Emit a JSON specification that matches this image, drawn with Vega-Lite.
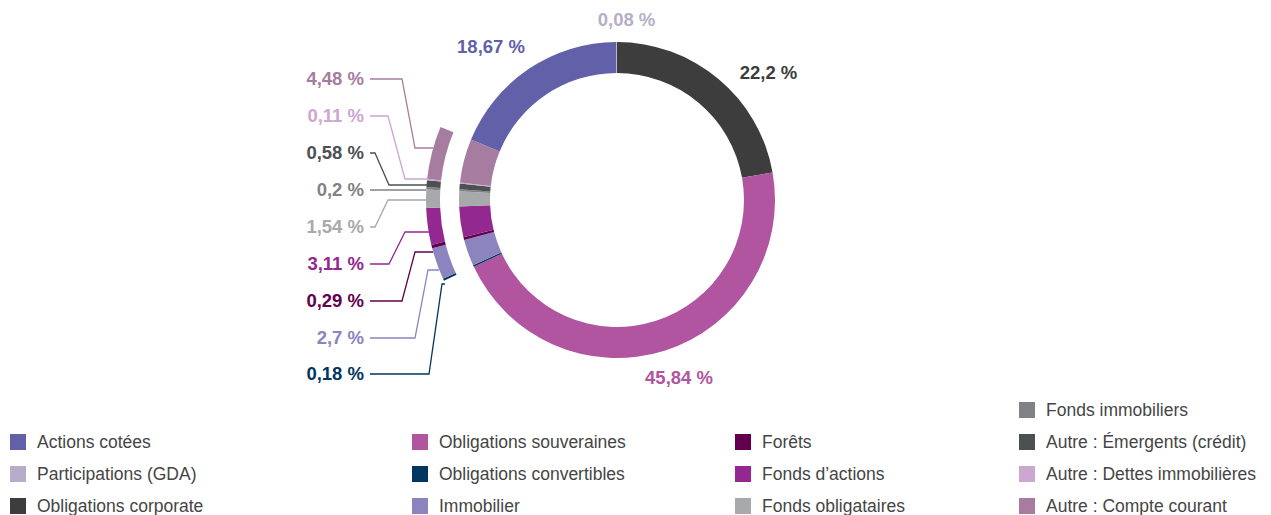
{
  "$schema": "https://vega.github.io/schema/vega-lite/v6.json",
  "padding": 0,
  "spacing": 0,
  "bounds": "flush",
  "background": "white",
  "description": "Répartition des actifs",
  "config": {"view": {"stroke": null}, "text": {"font": "Liberation Sans"}},
  "datasets": {
    "parts": [
      {"rank": 1, "categorie": "Obligations corporate", "valeur": 22.2, "colonne": 1, "ligne": 4},
      {"rank": 2, "categorie": "Obligations souveraines", "valeur": 45.84, "colonne": 2, "ligne": 2},
      {"rank": 3, "categorie": "Obligations convertibles", "valeur": 0.18, "colonne": 2, "ligne": 3},
      {"rank": 4, "categorie": "Immobilier", "valeur": 2.7, "colonne": 2, "ligne": 4},
      {"rank": 5, "categorie": "Forêts", "valeur": 0.29, "colonne": 3, "ligne": 2},
      {"rank": 6, "categorie": "Fonds d’actions", "valeur": 3.11, "colonne": 3, "ligne": 3},
      {"rank": 7, "categorie": "Fonds obligataires", "valeur": 1.54, "colonne": 3, "ligne": 4},
      {"rank": 8, "categorie": "Fonds immobiliers", "valeur": 0.2, "colonne": 4, "ligne": 1},
      {"rank": 9, "categorie": "Autre : Émergents (crédit)", "valeur": 0.58, "colonne": 4, "ligne": 2},
      {"rank": 10, "categorie": "Autre : Dettes immobilières", "valeur": 0.11, "colonne": 4, "ligne": 3},
      {"rank": 11, "categorie": "Autre : Compte courant", "valeur": 4.48, "colonne": 4, "ligne": 4},
      {"rank": 12, "categorie": "Actions cotées", "valeur": 18.67, "colonne": 1, "ligne": 2},
      {"rank": 13, "categorie": "Participations (GDA)", "valeur": 0.08, "colonne": 1, "ligne": 3}
    ],
    "reperes": [
      {"label": "4,48 %", "categorie": "Autre : Compte courant", "seq": 0, "x": -247, "y": 121},
      {"label": "4,48 %", "categorie": "Autre : Compte courant", "seq": 1, "x": -215, "y": 121},
      {"label": "4,48 %", "categorie": "Autre : Compte courant", "seq": 2, "x": -202, "y": 52},
      {"label": "4,48 %", "categorie": "Autre : Compte courant", "seq": 3, "x": -184, "y": 52},
      {"label": "0,11 %", "categorie": "Autre : Dettes immobilières", "seq": 0, "x": -247, "y": 84},
      {"label": "0,11 %", "categorie": "Autre : Dettes immobilières", "seq": 1, "x": -229, "y": 84},
      {"label": "0,11 %", "categorie": "Autre : Dettes immobilières", "seq": 2, "x": -212, "y": 21},
      {"label": "0,11 %", "categorie": "Autre : Dettes immobilières", "seq": 3, "x": -189, "y": 21},
      {"label": "0,58 %", "categorie": "Autre : Émergents (crédit)", "seq": 0, "x": -247, "y": 47},
      {"label": "0,58 %", "categorie": "Autre : Émergents (crédit)", "seq": 1, "x": -242, "y": 47},
      {"label": "0,58 %", "categorie": "Autre : Émergents (crédit)", "seq": 2, "x": -228, "y": 15},
      {"label": "0,58 %", "categorie": "Autre : Émergents (crédit)", "seq": 3, "x": -190, "y": 15},
      {"label": "0,2 %", "categorie": "Fonds immobiliers", "seq": 0, "x": -247, "y": 10},
      {"label": "0,2 %", "categorie": "Fonds immobiliers", "seq": 1, "x": -191, "y": 10},
      {"label": "1,54 %", "categorie": "Fonds obligataires", "seq": 0, "x": -247, "y": -27},
      {"label": "1,54 %", "categorie": "Fonds obligataires", "seq": 1, "x": -242, "y": -27},
      {"label": "1,54 %", "categorie": "Fonds obligataires", "seq": 2, "x": -229, "y": 0},
      {"label": "1,54 %", "categorie": "Fonds obligataires", "seq": 3, "x": -191, "y": 0},
      {"label": "3,11 %", "categorie": "Fonds d’actions", "seq": 0, "x": -247, "y": -64},
      {"label": "3,11 %", "categorie": "Fonds d’actions", "seq": 1, "x": -228, "y": -64},
      {"label": "3,11 %", "categorie": "Fonds d’actions", "seq": 2, "x": -212, "y": -32},
      {"label": "3,11 %", "categorie": "Fonds d’actions", "seq": 3, "x": -188, "y": -32},
      {"label": "0,29 %", "categorie": "Forêts", "seq": 0, "x": -247, "y": -101},
      {"label": "0,29 %", "categorie": "Forêts", "seq": 1, "x": -215, "y": -101},
      {"label": "0,29 %", "categorie": "Forêts", "seq": 2, "x": -202, "y": -52},
      {"label": "0,29 %", "categorie": "Forêts", "seq": 3, "x": -184, "y": -52},
      {"label": "2,7 %", "categorie": "Immobilier", "seq": 0, "x": -247, "y": -138},
      {"label": "2,7 %", "categorie": "Immobilier", "seq": 1, "x": -202, "y": -138},
      {"label": "2,7 %", "categorie": "Immobilier", "seq": 2, "x": -189, "y": -70},
      {"label": "2,7 %", "categorie": "Immobilier", "seq": 3, "x": -178, "y": -70},
      {"label": "0,18 %", "categorie": "Obligations convertibles", "seq": 0, "x": -247, "y": -174},
      {"label": "0,18 %", "categorie": "Obligations convertibles", "seq": 1, "x": -188, "y": -174},
      {"label": "0,18 %", "categorie": "Obligations convertibles", "seq": 2, "x": -175, "y": -84},
      {"label": "0,18 %", "categorie": "Obligations convertibles", "seq": 3, "x": -172, "y": -84}
    ],
    "etiquettes": [
      {"label": "18,67 %", "categorie": "Actions cotées", "x": -126, "y": 153},
      {"label": "0,08 %", "categorie": "Participations (GDA)", "x": 9.5, "y": 180},
      {"label": "22,2 %", "categorie": "Obligations corporate", "x": 151.5, "y": 127},
      {"label": "45,84 %", "categorie": "Obligations souveraines", "x": 62, "y": -178}
    ]
  },
  "vconcat": [
    {
      "width": 1271,
      "height": 395,
      "layer": [
        {
          "data": {"name": "parts"},
          "mark": {"type": "arc", "outerRadius": 158, "innerRadius": 127},
          "encoding": {
            "x": {"datum": 0, "type": "quantitative", "scale": {"domain": [-617, 654], "nice": false, "zero": false}, "axis": null},
            "y": {"datum": 0, "type": "quantitative", "scale": {"domain": [-195, 200], "nice": false, "zero": false}, "axis": null},
            "theta": {"field": "valeur", "type": "quantitative", "stack": true},
            "order": {"field": "rank", "type": "quantitative"},
            "color": {"field": "categorie", "type": "nominal", "legend": null,
              "scale": {
                "domain": ["Actions cotées", "Participations (GDA)", "Obligations corporate", "Obligations souveraines", "Obligations convertibles", "Immobilier", "Forêts", "Fonds d’actions", "Fonds obligataires", "Fonds immobiliers", "Autre : Émergents (crédit)", "Autre : Dettes immobilières", "Autre : Compte courant"],
                "range": ["#6160a9", "#b8adc9", "#3d3d3d", "#b155a1", "#00365f", "#8b84bf", "#62004f", "#932891", "#a8a9ab", "#818285", "#4c5051", "#cca7d0", "#a77ca1"]
              }
            }
          }
        },
        {
          "data": {"name": "parts"},
          "mark": {"type": "arc", "outerRadius": 191, "innerRadius": 177},
          "encoding": {
            "x": {"datum": 0, "type": "quantitative", "scale": {"domain": [-617, 654], "nice": false, "zero": false}, "axis": null},
            "y": {"datum": 0, "type": "quantitative", "scale": {"domain": [-195, 200], "nice": false, "zero": false}, "axis": null},
            "theta": {"field": "valeur", "type": "quantitative", "stack": true},
            "order": {"field": "rank", "type": "quantitative"},
            "color": {"field": "categorie", "type": "nominal", "legend": null},
            "opacity": {"condition": {"test": "datum.rank >= 3 && datum.rank <= 11", "value": 1}, "value": 0}
          }
        },
        {
          "data": {"name": "reperes"},
          "mark": {"type": "line", "strokeWidth": 1.3},
          "encoding": {
            "x": {"field": "x", "type": "quantitative", "scale": {"domain": [-617, 654], "nice": false, "zero": false}, "axis": null},
            "y": {"field": "y", "type": "quantitative", "scale": {"domain": [-195, 200], "nice": false, "zero": false}, "axis": null},
            "detail": {"field": "label"},
            "order": {"field": "seq", "type": "quantitative"},
            "color": {"field": "categorie", "type": "nominal", "legend": null}
          }
        },
        {
          "data": {"name": "reperes"},
          "transform": [{"filter": "datum.seq == 0"}],
          "mark": {"type": "text", "align": "right", "baseline": "middle", "dx": -6, "fontSize": 18.5, "fontWeight": "bold", "font": "Liberation Sans"},
          "encoding": {
            "x": {"field": "x", "type": "quantitative", "scale": {"domain": [-617, 654], "nice": false, "zero": false}, "axis": null},
            "y": {"field": "y", "type": "quantitative", "scale": {"domain": [-195, 200], "nice": false, "zero": false}, "axis": null},
            "text": {"field": "label"},
            "color": {"field": "categorie", "type": "nominal", "legend": null}
          }
        },
        {
          "data": {"name": "etiquettes"},
          "mark": {"type": "text", "align": "center", "baseline": "middle", "fontSize": 18.5, "fontWeight": "bold", "font": "Liberation Sans"},
          "encoding": {
            "x": {"field": "x", "type": "quantitative", "scale": {"domain": [-617, 654], "nice": false, "zero": false}, "axis": null},
            "y": {"field": "y", "type": "quantitative", "scale": {"domain": [-195, 200], "nice": false, "zero": false}, "axis": null},
            "text": {"field": "label"},
            "color": {"field": "categorie", "type": "nominal", "legend": null}
          }
        }
      ]
    },
    {
      "width": 1271,
      "height": 120,
      "data": {"name": "parts"},
      "encoding": {
        "x": {"field": "colonne", "type": "quantitative", "scale": {"domain": [1, 2, 3, 4], "range": [18, 420, 743, 1027], "nice": false, "zero": false}, "axis": null},
        "y": {"field": "ligne", "type": "quantitative", "scale": {"domain": [1, 4], "range": [15, 111], "nice": false, "zero": false}, "axis": null}
      },
      "layer": [
        {
          "mark": {"type": "square", "size": 256, "filled": true, "opacity": 1},
          "encoding": {"color": {"field": "categorie", "type": "nominal", "legend": null}}
        },
        {
          "mark": {"type": "text", "align": "left", "baseline": "middle", "dx": 19, "dy": 1, "fontSize": 17.5, "font": "Liberation Sans", "color": "#454545"},
          "encoding": {"text": {"field": "categorie"}}
        }
      ]
    }
  ],
  "resolve": {"scale": {"color": "shared"}}
}
